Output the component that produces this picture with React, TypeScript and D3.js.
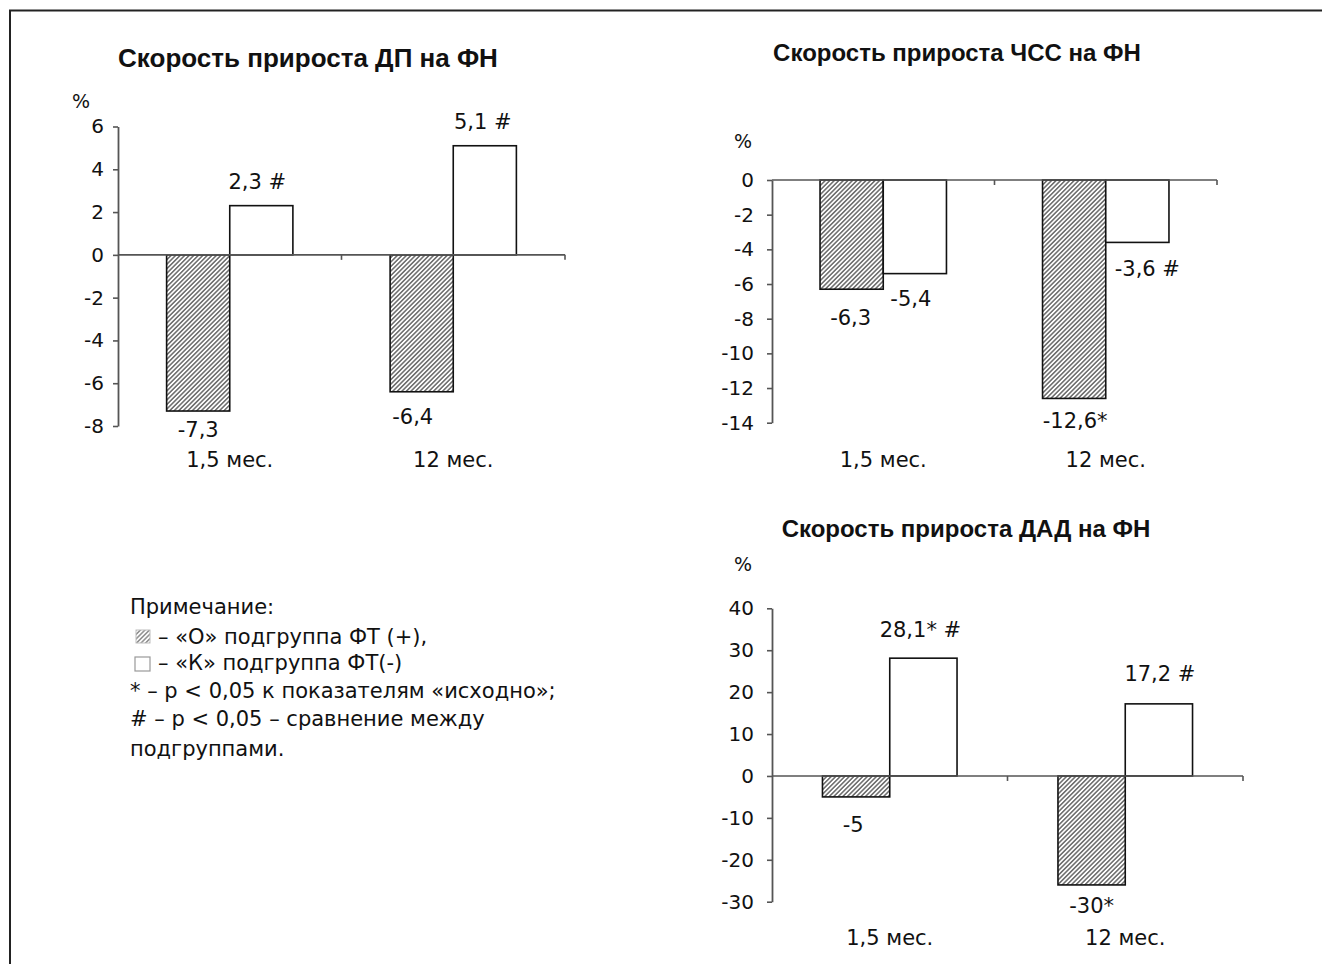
import React, { useEffect, useRef } from "react";
import * as d3 from "d3";

// categories and subgroups
const categories = ["1,5 мес.", "12 мес."];
const subgroups = ["O", "K"];

// ДП
const dpO = [-7.3, -6.4];
const dpK = [2.3, 5.1];
const dpLabelsO = ["-7,3", "-6,4"];
const dpLabelsK = ["2,3 #", "5,1 #"];
const dpTicks = [-8, -6, -4, -2, 0, 2, 4, 6];

// ЧСС
const hrO = [-6.3, -12.6];
const hrK = [-5.4, -3.6];
const hrLabelsO = ["-6,3", "-12,6*"];
const hrLabelsK = ["-5,4", "-3,6 #"];
const hrTicks = [-14, -12, -10, -8, -6, -4, -2, 0];

// ДАД
const dadO = [-5, -26];
const dadK = [28.1, 17.2];
const dadLabelsO = ["-5", "-30*"];
const dadLabelsK = ["28,1* #", "17,2 #"];
const dadTicks = [-30, -20, -10, 0, 10, 20, 30, 40];

const noteLines = [
  "Примечание:",
  "– «О» подгруппа ФТ (+),",
  "– «К» подгруппа ФТ(-)",
  "* – p < 0,05 к показателям «исходно»;",
  "# – p < 0,05 – сравнение между",
  "подгруппами.",
];

const font = "'DejaVu Sans', sans-serif";
const titleFont = "'Liberation Sans', Arial, sans-serif";
const axisColor = "#555";

// layout of each panel
const charts = [
  {
    title: "Скорость прироста ДП на ФН", titleX: 308, titleY: 67, titleSize: 26,
    x0: 118, x1: 565, yTop: 126.5, yBottom: 426, domain: [-8, 6], ticks: dpTicks,
    o: dpO, k: dpK, lo: dpLabelsO, lk: dpLabelsK, pad: 0.77, tickPad: 9,
    pctX: 81, pctY: 108, catY: 467,
    offO: [[0, 26], [-9, 32]], offK: [[-4, -17], [-2, -17]],
  },
  {
    title: "Скорость прироста ЧСС на ФН", titleX: 957, titleY: 60.5, titleSize: 24,
    x0: 772, x1: 1217, yTop: 180, yBottom: 422.7, domain: [-14, 0], ticks: hrTicks,
    o: hrO, k: hrK, lo: hrLabelsO, lk: hrLabelsK, pad: 0.76, tickPad: 13,
    pctX: 743, pctY: 148, catY: 467,
    offO: [[-1, 36], [1, 30]], offK: [[-4, 32], [10, 33.5]],
  },
  {
    title: "Скорость прироста ДАД на ФН", titleX: 966, titleY: 536.5, titleSize: 24,
    x0: 772, x1: 1243, yTop: 608.3, yBottom: 901.7, domain: [-30, 40], ticks: dadTicks,
    o: dadO, k: dadK, lo: dadLabelsO, lk: dadLabelsK, pad: 0.75, tickPad: 13,
    pctX: 743, pctY: 571, catY: 945,
    offO: [[-3, 35], [0, 28]], offK: [[-3, -21], [1, -22.5]],
  },
];

function drawChart(svg: any, c: any) {
  const x = d3.scaleBand().domain(categories).range([c.x0, c.x1]).padding(0);
  const xs = d3.scaleBand().domain(subgroups).range([0, x.bandwidth()])
    .paddingInner(0).paddingOuter(c.pad);
  const y = d3.scaleLinear().domain(c.domain).range([c.yBottom, c.yTop]);
  const g = svg.append("g");

  g.append("text").attr("x", c.titleX).attr("y", c.titleY)
    .attr("text-anchor", "middle").attr("font-family", titleFont)
    .attr("font-weight", "bold").attr("font-size", c.titleSize).attr("fill", "#111")
    .text(c.title);

  g.append("text").attr("x", c.pctX).attr("y", c.pctY)
    .attr("text-anchor", "middle").attr("font-family", font)
    .attr("font-size", 19).attr("fill", "#111").text("%");

  // bars
  const series = [
    { key: "O", vals: c.o, labels: c.lo, offs: c.offO, fill: "url(#hatch)" },
    { key: "K", vals: c.k, labels: c.lk, offs: c.offK, fill: "#fff" },
  ];
  series.forEach((s) => {
    categories.forEach((cat, i) => {
      const v = s.vals[i];
      const bx = (x(cat) as number) + (xs(s.key) as number);
      g.append("rect")
        .attr("x", bx).attr("width", xs.bandwidth())
        .attr("y", Math.min(y(0), y(v))).attr("height", Math.abs(y(v) - y(0)))
        .attr("fill", s.fill).attr("stroke", "#111").attr("stroke-width", 1.6);
      g.append("text")
        .attr("x", bx + xs.bandwidth() / 2 + s.offs[i][0])
        .attr("y", y(v) + s.offs[i][1])
        .attr("text-anchor", "middle").attr("font-family", font)
        .attr("font-size", 21).attr("fill", "#111").text(s.labels[i]);
    });
  });

  // y axis
  const ya = g.append("g").attr("transform", `translate(${c.x0},0)`)
    .call(d3.axisLeft(y).tickValues(c.ticks).tickFormat((d: any) => String(d))
      .tickSize(5).tickSizeOuter(0).tickPadding(c.tickPad));
  ya.select(".domain").attr("stroke", axisColor).attr("stroke-width", 1.8);
  ya.selectAll(".tick line").attr("stroke", axisColor).attr("stroke-width", 1.6);
  ya.selectAll(".tick text").attr("font-family", font).attr("font-size", 20).attr("fill", "#111");

  // x axis at zero
  g.append("line").attr("x1", c.x0).attr("x2", c.x1).attr("y1", y(0)).attr("y2", y(0))
    .attr("stroke", axisColor).attr("stroke-width", 1.6);
  categories.forEach((cat) => {
    const tx = (x(cat) as number) + x.bandwidth();
    g.append("line").attr("x1", tx).attr("x2", tx).attr("y1", y(0)).attr("y2", y(0) + 5)
      .attr("stroke", axisColor).attr("stroke-width", 1.6);
    g.append("text").attr("x", (x(cat) as number) + x.bandwidth() / 2).attr("y", c.catY)
      .attr("text-anchor", "middle").attr("font-family", font)
      .attr("font-size", 21).attr("fill", "#111").text(cat);
  });
}

export default function App() {
  const ref = useRef<SVGSVGElement>(null);
  useEffect(() => {
    const svg = d3.select(ref.current);
    svg.selectAll("*").remove();
    const defs = svg.append("defs");
    const pat = defs.append("pattern").attr("id", "hatch")
      .attr("patternUnits", "userSpaceOnUse").attr("width", 3.2).attr("height", 3.2)
      .attr("patternTransform", "rotate(45)");
    pat.append("rect").attr("width", 3.2).attr("height", 3.2).attr("fill", "#fff");
    pat.append("line").attr("x1", 0.8).attr("x2", 0.8).attr("y1", 0).attr("y2", 3.2)
      .attr("stroke", "#3a3a3a").attr("stroke-width", 1.15);

    svg.append("rect").attr("width", 1322).attr("height", 964).attr("fill", "#fff");
    svg.append("path").attr("d", "M10,964 V10.5 H1322").attr("fill", "none")
      .attr("stroke", "#222").attr("stroke-width", 2);

    charts.forEach((c) => drawChart(svg, c));

    // note / legend
    const lg = svg.append("g").attr("font-family", font).attr("font-size", 21).attr("fill", "#111");
    const baselines = [614, 644, 670, 698, 726, 756];
    noteLines.forEach((t, i) => {
      lg.append("text").attr("x", i === 1 || i === 2 ? 158 : 130).attr("y", baselines[i]).text(t);
    });
    lg.append("rect").attr("x", 136).attr("y", 630).attr("width", 14).attr("height", 13)
      .attr("fill", "url(#hatch)").attr("stroke", "#aaa").attr("stroke-width", 1)
      .attr("opacity", 0.75);
    lg.append("rect").attr("x", 135).attr("y", 657).attr("width", 15).attr("height", 14)
      .attr("fill", "#fff").attr("stroke", "#999").attr("stroke-width", 1.2);
  }, []);
  return (
    <svg ref={ref} width={1322} height={964}
      style={{ position: "absolute", left: 0, top: 0, background: "#fff" }} />
  );
}
